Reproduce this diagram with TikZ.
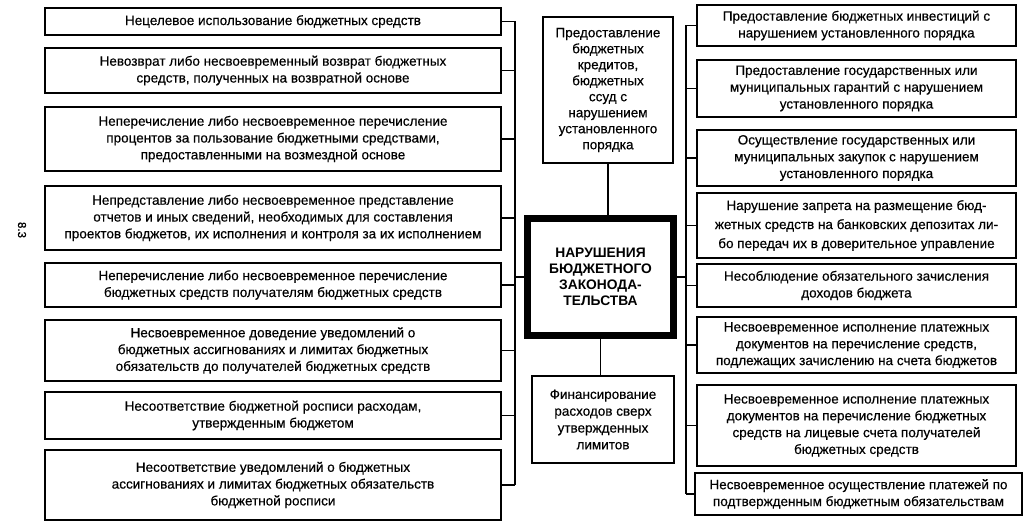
\documentclass[tikz,border=0pt]{standalone}
\usepackage{fontspec}
\setmainfont{Liberation Sans}
\newfontfamily\boxfont[FakeBold=0.4]{Liberation Sans}
\usepackage{tikz}

\begin{document}
\begin{tikzpicture}[x=1pt, y=-1pt, line width=1.3pt,
  box/.style={draw, line width=1.7pt, align=center, inner sep=0pt, font=\boxfont\fontsize{13.5}{16.8}\selectfont},
  lbox/.style={box, minimum width=456pt},
  rbox/.style={box, minimum width=319pt}]
  \useasboundingbox (0,0) rectangle (1030,529); % 図の大きさ
  \node[rotate=-90, font=\boxfont\fontsize{11.5}{13}\selectfont] (num) at (22,230) {8.3}; % 左端の番号

  % 左の列
  \node[lbox, minimum height=27pt] (L1) at (273,21.5) {Нецелевое использование бюджетных средств};
  \node[lbox, minimum height=45pt] (L2) at (273,70.5) {Невозврат либо несвоевременный возврат бюджетных\\средств, полученных на возвратной основе};
  \node[lbox, minimum height=64pt] (L3) at (273,139) {Неперечисление либо несвоевременное перечисление\\процентов за пользование бюджетными средствами,\\предоставленными на возмездной основе};
  \node[lbox, minimum height=64pt] (L4) at (273,218) {Непредставление либо несвоевременное представление\\отчетов и иных сведений, необходимых для составления\\проектов бюджетов, их исполнения и контроля за их исполнением};
  \node[lbox, minimum height=44pt] (L5) at (273,285) {Неперечисление либо несвоевременное перечисление\\бюджетных средств получателям бюджетных средств};
  \node[lbox, minimum height=61pt] (L6) at (273,350.5) {Несвоевременное доведение уведомлений о\\бюджетных ассигнованиях и лимитах бюджетных\\обязательств до получателей бюджетных средств};
  \node[lbox, minimum height=47pt] (L7) at (273,415.5) {Несоответствие бюджетной росписи расходам,\\утвержденным бюджетом};
  \node[lbox, minimum height=70pt] (L8) at (273,485) {Несоответствие уведомлений о бюджетных\\ассигнованиях и лимитах бюджетных обязательств\\бюджетной росписи};

  % 中央の列
  \node[box, minimum width=130pt, minimum height=146pt, font=\boxfont\fontsize{13.5}{16}\selectfont] (credit) at (608,90) {Предоставление\\бюджетных\\кредитов,\\бюджетных\\ссуд с\\нарушением\\установленного\\порядка};
  \node[draw, line width=5.5pt, minimum width=147pt, minimum height=118pt, align=center, font=\bfseries\fontsize{13.8}{15.8}\selectfont] (main) at (600.5,277) {НАРУШЕНИЯ\\БЮДЖЕТНОГО\\ЗАКОНОДА-\\ТЕЛЬСТВА};
  \draw[line width=1pt] ([shift={(6pt,-6pt)}]main.north west) rectangle ([shift={(-6pt,6pt)}]main.south east); % 内側の細い枠
  \node[box, minimum width=142pt, minimum height=87pt] (finance) at (603,419.5) {Финансирование\\расходов сверх\\утвержденных\\лимитов};

  % 右の列
  \node[rbox, minimum height=41pt] (R1) at (856.5,25.5) {Предоставление бюджетных инвестиций с\\нарушением установленного порядка};
  \node[rbox, minimum height=57pt] (R2) at (856.5,88.5) {Предоставление государственных или\\муниципальных гарантий с нарушением\\установленного порядка};
  \node[rbox, minimum height=56pt] (R3) at (856.5,158) {Осуществление государственных или\\муниципальных закупок с нарушением\\установленного порядка};
  \node[rbox, minimum height=65pt, font=\boxfont\fontsize{13.5}{19}\selectfont] (R4) at (856.5,225.5) {Нарушение запрета на размещение бюд-\\жетных средств на банковских депозитах ли-\\бо передач их в доверительное управление};
  \node[rbox, minimum height=43pt] (R5) at (856.5,285.5) {Несоблюдение обязательного зачисления\\доходов бюджета};
  \node[rbox, minimum height=56pt] (R6) at (856.5,345) {Несвоевременное исполнение платежных\\документов на перечисление средств,\\подлежащих зачислению на счета бюджетов};
  \node[rbox, minimum height=81pt] (R7) at (856.5,425.5) {Несвоевременное исполнение платежных\\документов на перечисление бюджетных\\средств на лицевые счета получателей\\бюджетных средств};
  \node[box, minimum width=327pt, minimum height=42pt] (R8) at (858.5,494) {Несвоевременное осуществление платежей по\\подтвержденным бюджетным обязательствам};

  % 連結線
  \coordinate (lbus) at (515,0); % 左の縦線
  \coordinate (rbus) at (686,0); % 右の縦線
  \draw (L1.east -| lbus) -- (L8.east -| lbus);
  \draw (R1.west -| rbus) -- (R8.west -| rbus);
  \draw (L1.east) -- (L1.east -| lbus);
  \draw (L2.east) -- (L2.east -| lbus);
  \draw (L3.east) -- (L3.east -| lbus);
  \draw (L4.east) -- (L4.east -| lbus);
  \draw (L5.east) -- (L5.east -| lbus);
  \draw (L6.east) -- (L6.east -| lbus);
  \draw (L7.east) -- (L7.east -| lbus);
  \draw (L8.east) -- (L8.east -| lbus);
  \draw (R1.west) -- (R1.west -| rbus);
  \draw (R2.west) -- (R2.west -| rbus);
  \draw (R3.west) -- (R3.west -| rbus);
  \draw (R4.west) -- (R4.west -| rbus);
  \draw (R5.west) -- (R5.west -| rbus);
  \draw (R6.west) -- (R6.west -| rbus);
  \draw (R7.west) -- (R7.west -| rbus);
  \draw (R8.west) -- (R8.west -| rbus);
  \draw (main.west) -- (main.west -| lbus); % 中央から左へ
  \draw (main.east) -- (main.east -| rbus); % 中央から右へ
  \draw (credit.south) -- (credit.south |- main.north);
  \draw (main.south) -- (main.south |- finance.north);
\end{tikzpicture}
\end{document}
